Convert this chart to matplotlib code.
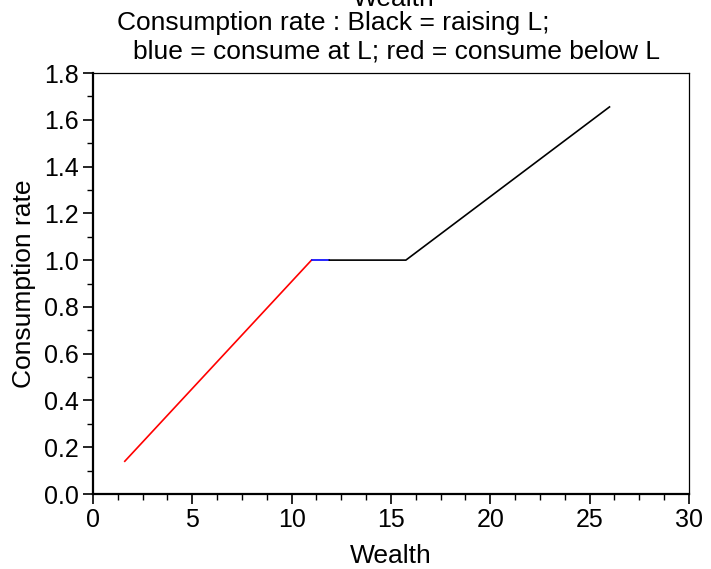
import matplotlib
matplotlib.use("Agg")
import matplotlib.pyplot as plt
from matplotlib.ticker import MultipleLocator

plt.rcParams['font.family'] = ['Liberation Sans', 'DejaVu Sans']

# consumption path, split by regime
red_x = [1.6, 11.0]
red_y = [0.14, 1.0]
blue_x = [11.0, 11.9]
blue_y = [1.0, 1.0]
black_x = [11.9, 15.75, 26.0]
black_y = [1.0, 1.0, 1.655]

fig = plt.figure(figsize=(7.11, 5.69), dpi=100)
ax = fig.add_axes([0.1308, 0.1318, 0.8382, 0.7399])

ax.plot(red_x, red_y, color='red', lw=1.2)
ax.plot(blue_x, blue_y, color='blue', lw=1.2)
ax.plot(black_x, black_y, color='black', lw=1.2)

ax.set_xlim(0, 30)
ax.set_ylim(0, 1.8)
ax.xaxis.set_major_locator(MultipleLocator(5))
ax.xaxis.set_minor_locator(MultipleLocator(1.25))
ax.yaxis.set_major_locator(MultipleLocator(0.2))
ax.yaxis.set_minor_locator(MultipleLocator(0.1))
ax.yaxis.set_major_formatter(matplotlib.ticker.FormatStrFormatter('%.1f'))

ax.tick_params(which='major', direction='out', length=7, width=1.2, labelsize=18, pad=3)
ax.tick_params(which='minor', direction='out', length=4.5, width=1.0)
ax.tick_params(top=False, right=False)
for s in ['left', 'bottom']:
    ax.spines[s].set_linewidth(1.6)
for s in ['top', 'right']:
    ax.spines[s].set_linewidth(0.9)

ax.set_xlabel('Wealth', fontsize=19, labelpad=9)
ax.set_ylabel('Consumption rate', fontsize=19, labelpad=6)

fig.text(353 / 711, 1 - 6 / 569, 'Wealth', fontsize=19, ha='left', va='baseline')
fig.text(117 / 711, 1 - 30 / 569, 'Consumption rate : Black = raising L;',
         fontsize=19, ha='left', va='baseline')
fig.text(133 / 711, 1 - 59 / 569, 'blue = consume at L; red = consume below L',
         fontsize=19, ha='left', va='baseline')

fig.savefig('out.png', dpi=100)
